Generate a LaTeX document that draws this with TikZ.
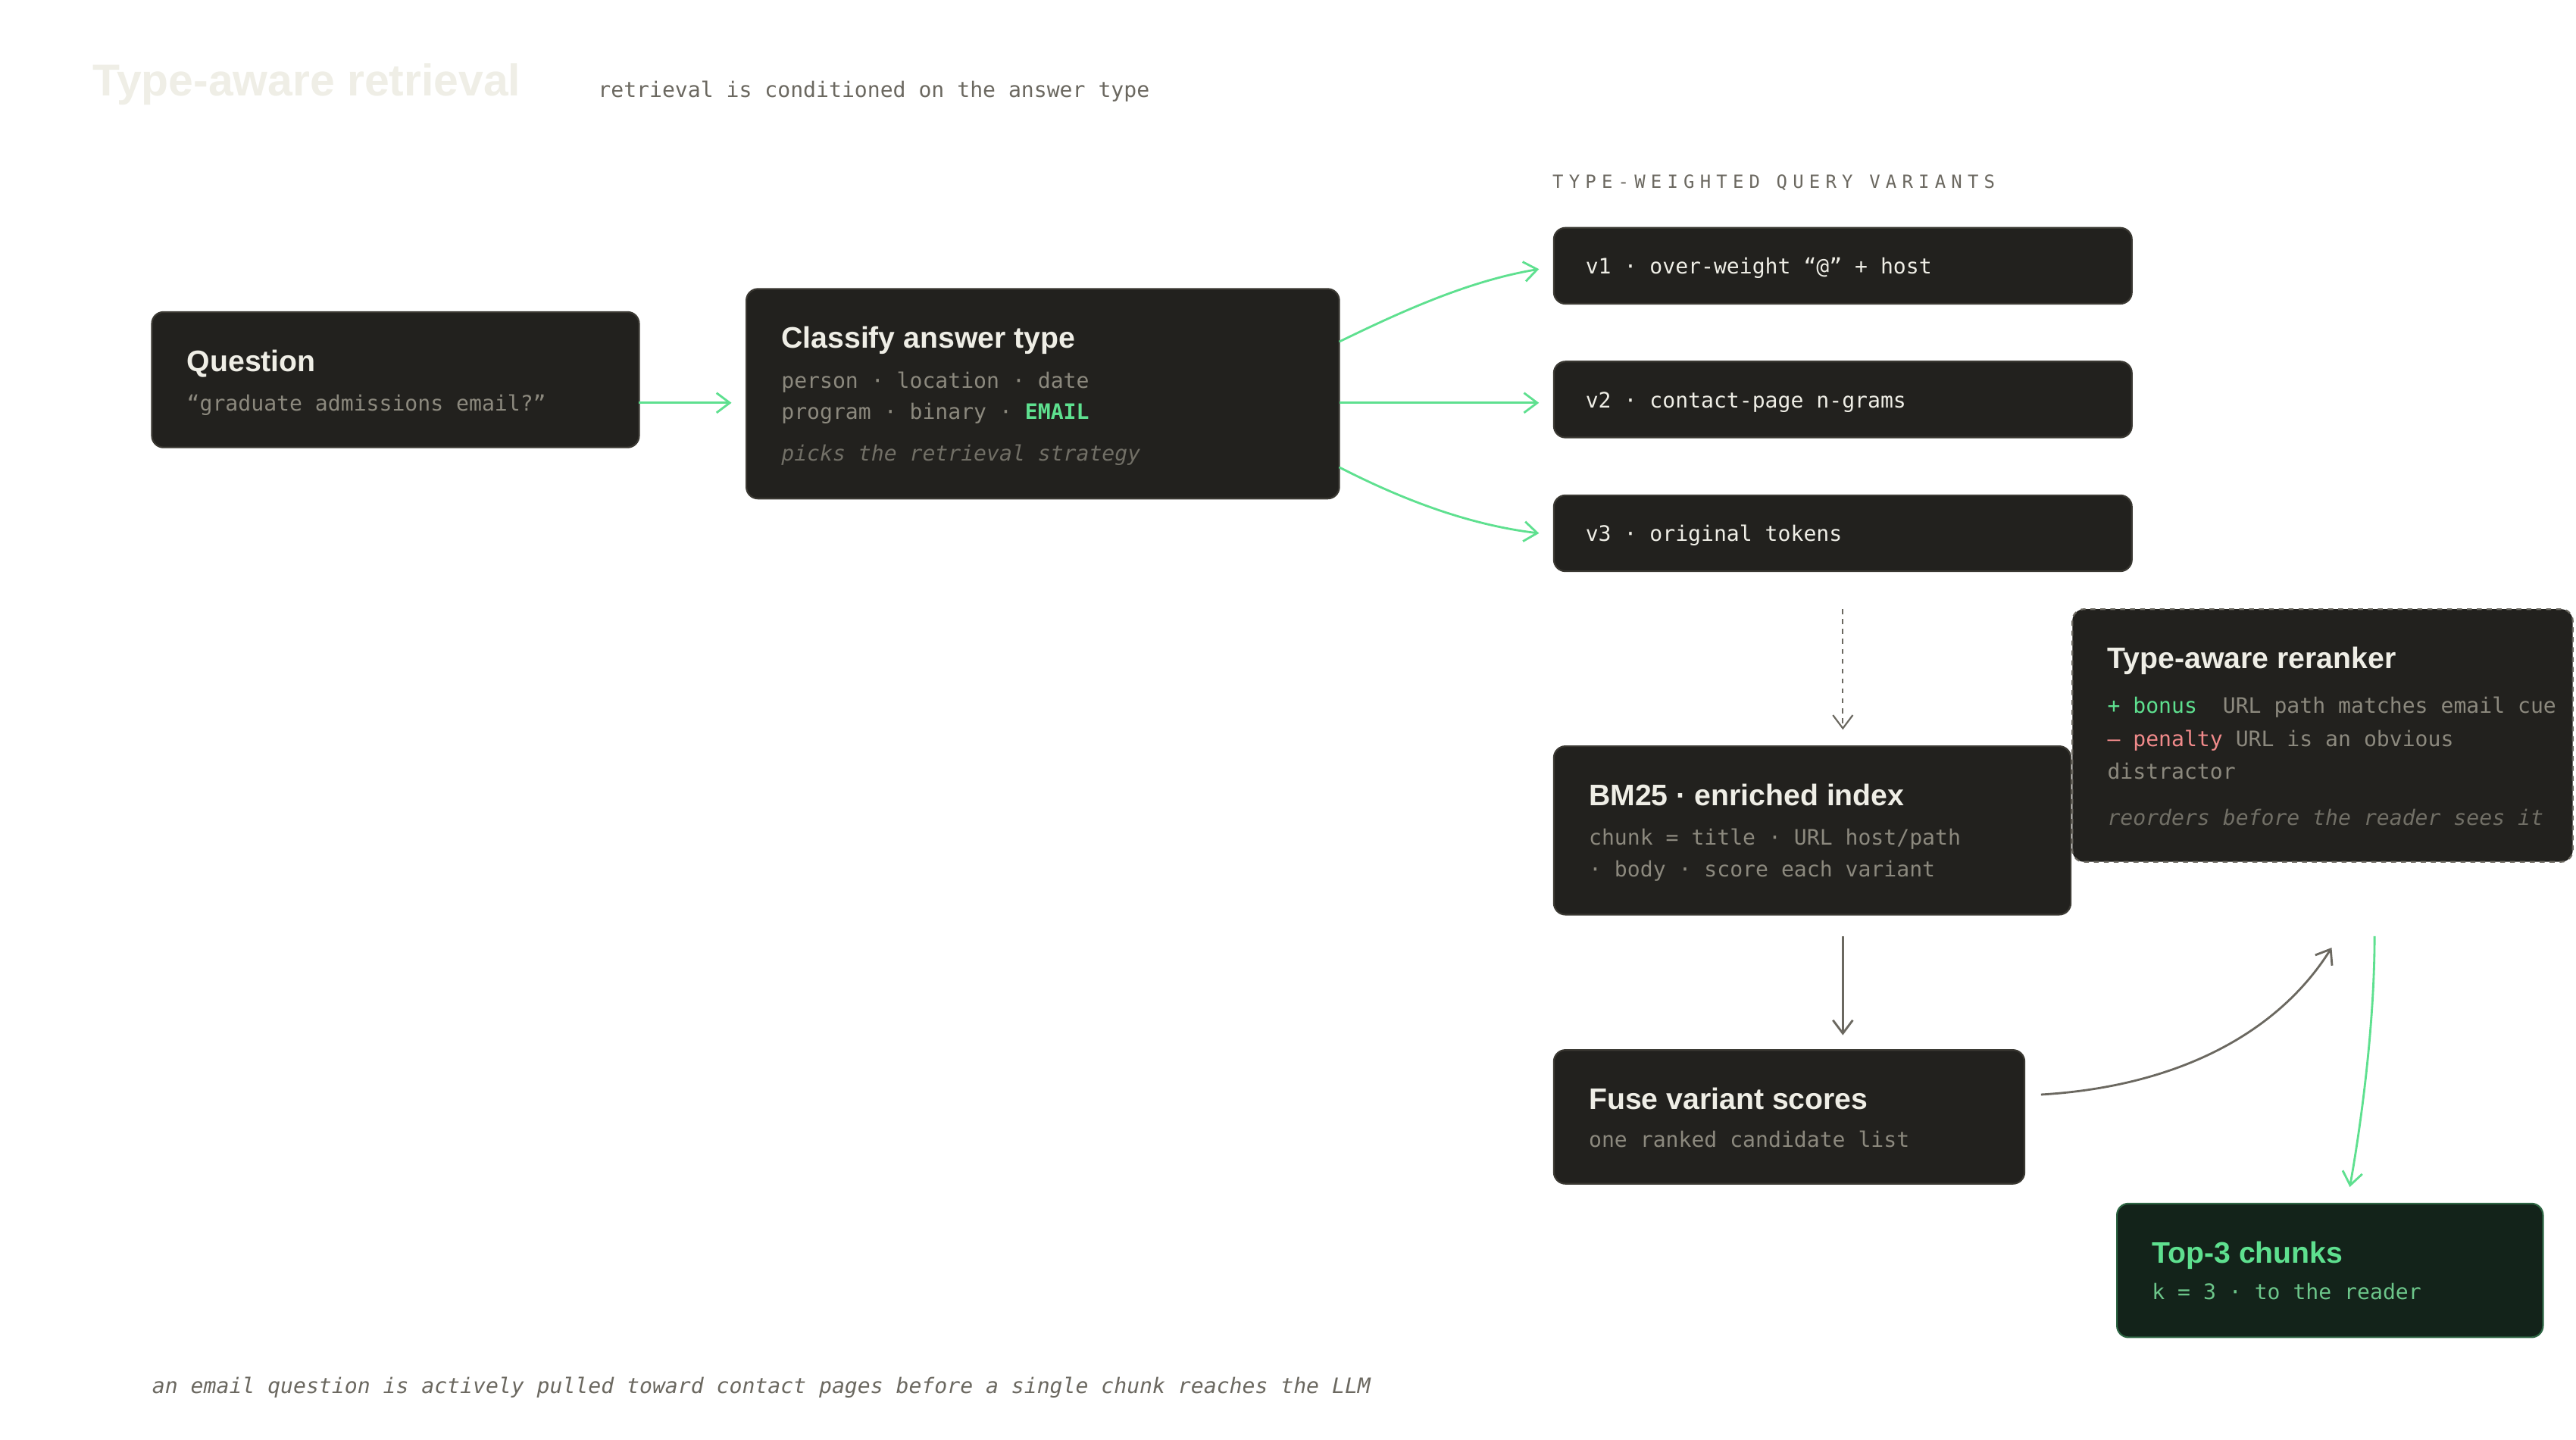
\documentclass[tikz,border=0pt]{standalone}
\usepackage{fontspec}
\setmainfont{Liberation Sans}
\setmonofont{DejaVu Sans Mono}
\usetikzlibrary{arrows.meta}
\definecolor{boxbg}{HTML}{22211E}
\definecolor{boxln}{HTML}{3A3832}
\definecolor{grn}{HTML}{5EE08F}
\definecolor{txt}{HTML}{8C897E}
\definecolor{ttl}{HTML}{EFEEE6}
\definecolor{red}{HTML}{F08A8A}
\definecolor{arr}{HTML}{6B6860}
\definecolor{topbg}{HTML}{13231A}
\tikzset{
 box/.style={fill=boxbg,draw=boxln,line width=1pt,rounded corners=7pt},
 hd/.style={anchor=base west,inner sep=0,font=\fontsize{18}{20}\selectfont\bfseries,text=ttl},
 mo/.style={anchor=base west,inner sep=0,font=\fontsize{12.9}{14}\ttfamily,text=txt},
 it/.style={anchor=base west,inner sep=0,font=\fontsize{12.9}{14}\ttfamily\itshape,text=txt!75!boxbg},
 ga/.style={draw=grn,line width=1.3pt,-{Straight Barb[length=8pt,width=12pt]}},
 da/.style={draw=arr,line width=1.3pt,-{Straight Barb[length=8pt,width=12pt]}},
}
\begin{document}
\begin{tikzpicture}[x=1pt,y=-1pt]
\useasboundingbox (0,0) rectangle (1560,872);
\fill[white] (0,0) rectangle (1560,872);
\node[anchor=base west,inner sep=0,font=\fontsize{27}{30}\selectfont\bfseries,text=ttl] (title) at (56,58) {Type-aware retrieval};
\node[mo,text=arr] (sub) at (362,59) {retrieval is conditioned on the answer type};
\node[mo,font=\fontsize{11}{12}\ttfamily\addfontfeatures{LetterSpace=30},text=arr] (lbl) at (940,114) {TYPE-WEIGHTED QUERY VARIANTS};
% boxes
\draw[box] (92,189) rectangle (387,271);
\node[hd] (qt) at (113,225) {Question};
\node[mo] (qs) at (113,249) {“graduate admissions email?”};
\draw[box] (452,175) rectangle (811,302);
\node[hd] (ct) at (473,211) {Classify answer type};
\node[mo] at (473,235) {person · location · date};
\node[mo] at (473,254) {program · binary · \textcolor{grn}{\bfseries EMAIL}};
\node[it] at (473,279) {picks the retrieval strategy};
\foreach \y/\t/\n in {138/{v1 · over-weight “@” + host}/v1,219/{v2 · contact-page n-grams}/v2,300/{v3 · original tokens}/v3}{
 \draw[box] (941,\y) rectangle (1291,\y+46);
 \node[mo,text=ttl] (\n) at (960,\y+28) {\t};
}
\draw[box] (941,452) rectangle (1254,554);
\node[hd] at (962,488) {BM25 · enriched index};
\node[mo] at (962,512) {chunk = title · URL host/path};
\node[mo] at (962,531) {· body · score each variant};
\draw[box,dashed,draw=arr] (1255,369) rectangle (1558,522);
\node[hd] at (1276,405) {Type-aware reranker};
\node[mo] at (1276,432) {\textcolor{grn}{+ bonus}\ \ URL path matches email cue};
\node[mo] at (1276,452) {\textcolor{red}{– penalty} URL is an obvious};
\node[mo] at (1276,472) {distractor};
\node[it] at (1276,500) {reorders before the reader sees it};
\draw[box] (941,636) rectangle (1226,717);
\node[hd] at (962,672) {Fuse variant scores};
\node[mo] at (962,695) {one ranked candidate list};
\draw[box,fill=topbg,draw=grn!35!topbg] (1282,729) rectangle (1540,810);
\node[hd,text=grn] at (1303,765) {Top-3 chunks};
\node[mo,text=grn!70!txt] at (1303,787) {k = 3 · to the reader};
% connectors
\coordinate (a1) at (387,244); \coordinate (a2) at (443,244);
\draw[ga] (a1) -- (a2);
\coordinate (c1) at (811,207); \coordinate (d1) at (932,163);
\draw[ga] (c1) .. controls (850,188) and (890,170) .. (d1);
\coordinate (c2) at (811,244); \coordinate (d2) at (932,244);
\draw[ga] (c2) -- (d2);
\coordinate (c3) at (811,283); \coordinate (d3) at (932,323);
\draw[ga] (c3) .. controls (850,303) and (890,318) .. (d3);
\coordinate (e1) at (1116,369); \coordinate (e2) at (1116,442);
\draw[da,dashed,line width=1pt] (e1) -- (e2);
\coordinate (f1) at (1116,567); \coordinate (f2) at (1116,627);
\draw[da] (f1) -- (f2);
\coordinate (g1) at (1236,663); \coordinate (g2) at (1412,574);
\draw[da] (g1) .. controls (1320,658) and (1380,625) .. (g2);
\coordinate (h1) at (1438,567); \coordinate (h2) at (1423,719);
\draw[ga] (h1) .. controls (1438,620) and (1430,680) .. (h2);
\node[it,text=arr] (foot) at (92,844) {an email question is actively pulled toward contact pages before a single chunk reaches the LLM};
\end{tikzpicture}
\end{document}
